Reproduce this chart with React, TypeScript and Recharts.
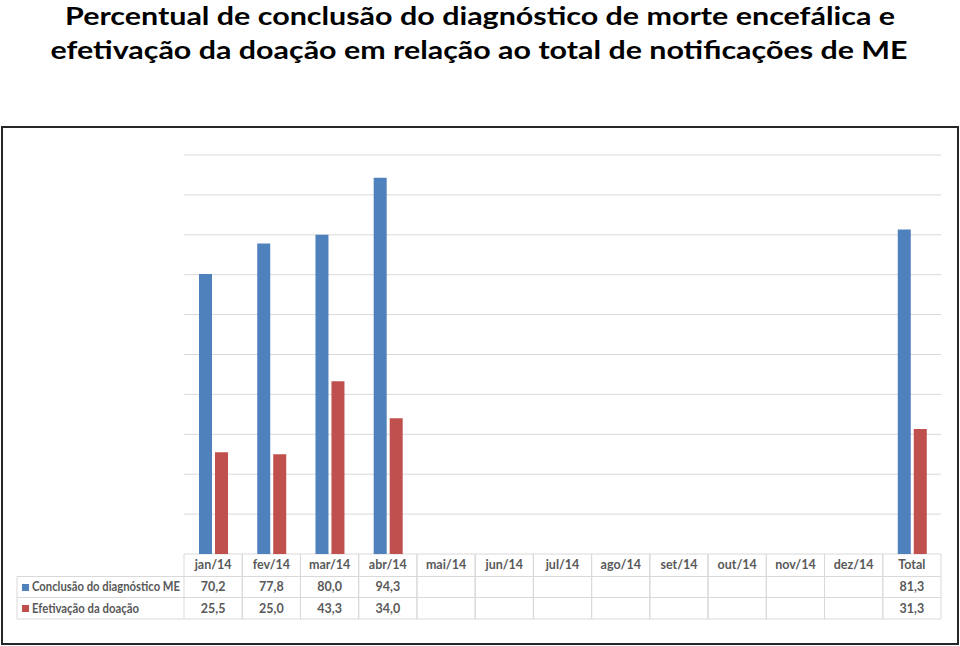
import React from 'react';
import { BarChart, Bar, XAxis, YAxis, CartesianGrid } from 'recharts';

const categories = ['jan/14', 'fev/14', 'mar/14', 'abr/14', 'mai/14', 'jun/14', 'jul/14', 'ago/14', 'set/14', 'out/14', 'nov/14', 'dez/14', 'Total'];
const conclusao: (number | null)[] = [70.2, 77.8, 80.0, 94.3, null, null, null, null, null, null, null, null, 81.3];
const efetivacao: (number | null)[] = [25.5, 25.0, 43.3, 34.0, null, null, null, null, null, null, null, null, 31.3];
const seriesNames = ['Conclusão do diagnóstico ME', 'Efetivação da doação'];
const yTicks = [0, 10, 20, 30, 40, 50, 60, 70, 80, 90, 100];
const titleLines = [
  'Percentual de conclusão do diagnóstico de morte encefálica e',
  'efetivação da doação em relação ao total de notificações de ME',
];

const BLUE = '#4f81bd';
const RED = '#c0504d';
const GRID = '#d9d9d9';
const TEXT = '#595959';
const FONT = 'Lato, "Open Sans", sans-serif';

const W = 960;
const H = 646;
const PLOT_LEFT = 184;
const PLOT_RIGHT = 941;
const PLOT_TOP = 155;
const PLOT_BOTTOM = 554;
const XH = 66;
const COL_HALF = (PLOT_RIGHT - PLOT_LEFT) / categories.length / 2;
const ROW1 = 22.5;
const ROW2 = 43.5;
const ROW3 = 65;
const LABEL_LEFT = 17;
const LABEL_WIDTHS = [148, 107];
const TS = 12.5;

const data = categories.map((c, i) => ({ cat: c, conclusao: conclusao[i], efetivacao: efetivacao[i] }));

const fmt = (v: number | null) => (v == null ? '' : v.toFixed(1).replace('.', ','));

const TableTick = (props: any) => {
  const { x, y, payload } = props;
  const i = categories.indexOf(payload.value);
  const l = x - COL_HALF;
  const r = x + COL_HALF;
  const colors = [BLUE, RED];
  const tp = { fontFamily: FONT, fontSize: TS, fontWeight: 700, fill: TEXT } as any;
  return (
    <g>
      <line x1={l} x2={l} y1={y} y2={y + ROW3} stroke={GRID} strokeWidth={1} />
      <line x1={r} x2={r} y1={y} y2={y + ROW3} stroke={GRID} strokeWidth={1} />
      <line x1={l} x2={r} y1={y + ROW1} y2={y + ROW1} stroke={GRID} strokeWidth={1} />
      <line x1={l} x2={r} y1={y + ROW2} y2={y + ROW2} stroke={GRID} strokeWidth={1} />
      <line x1={l} x2={r} y1={y + ROW3} y2={y + ROW3} stroke={GRID} strokeWidth={1} />
      <text x={x} y={y + 15} textAnchor="middle" {...tp}>{payload.value}</text>
      <text x={x} y={y + 37} textAnchor="middle" {...tp}>{fmt(conclusao[i])}</text>
      <text x={x} y={y + 58.5} textAnchor="middle" {...tp}>{fmt(efetivacao[i])}</text>
      {i === 0 && (
        <g>
          <line x1={LABEL_LEFT} x2={l} y1={y + ROW1} y2={y + ROW1} stroke={GRID} strokeWidth={1} />
          <line x1={LABEL_LEFT} x2={l} y1={y + ROW2} y2={y + ROW2} stroke={GRID} strokeWidth={1} />
          <line x1={LABEL_LEFT} x2={l} y1={y + ROW3} y2={y + ROW3} stroke={GRID} strokeWidth={1} />
          <line x1={LABEL_LEFT} x2={LABEL_LEFT} y1={y + ROW1} y2={y + ROW3} stroke={GRID} strokeWidth={1} />
          {seriesNames.map((n, k) => (
            <g key={n}>
              <rect x={22} y={y + 30 + k * 21} width={7} height={7} fill={colors[k]} />
              <text x={32} y={y + 37 + k * 21.5} {...tp} textLength={LABEL_WIDTHS[k]} lengthAdjust="spacingAndGlyphs">{n}</text>
            </g>
          ))}
        </g>
      )}
    </g>
  );
};

export default function App() {
  return (
    <div style={{ position: 'absolute', left: 0, top: 0, width: W, height: H, background: '#fff', overflow: 'hidden' }}>
      <svg width={W} height={120} style={{ position: 'absolute', left: 0, top: 0 }}>
        <text x={480} y={25} textAnchor="middle" fontFamily={FONT} fontWeight={700} fontSize={25} fill="#000" textLength={830} lengthAdjust="spacingAndGlyphs">{titleLines[0]}</text>
        <text x={479} y={58.5} textAnchor="middle" fontFamily={FONT} fontWeight={700} fontSize={25} fill="#000" textLength={857} lengthAdjust="spacingAndGlyphs">{titleLines[1]}</text>
      </svg>
      <div style={{ position: 'absolute', left: 1, top: 126, width: 958, height: 519, boxSizing: 'border-box', border: '2px solid #262626' }} />
      <div style={{ position: 'absolute', left: 0, top: 0 }}>
        <BarChart
          width={W}
          height={H}
          data={data}
          margin={{ top: PLOT_TOP, left: PLOT_LEFT, right: W - PLOT_RIGHT, bottom: H - PLOT_BOTTOM - XH }}
          barSize={13}
          barGap={3}
        >
          <CartesianGrid vertical={false} stroke={GRID} strokeWidth={1} />
          <YAxis hide domain={[0, 100]} ticks={yTicks} width={0} />
          <XAxis dataKey="cat" interval={0} axisLine={false} tickLine={false} tickSize={0} tickMargin={0} height={XH} tick={<TableTick />} />
          <Bar dataKey="conclusao" fill={BLUE} isAnimationActive={false} />
          <Bar dataKey="efetivacao" fill={RED} isAnimationActive={false} />
        </BarChart>
      </div>
    </div>
  );
}
